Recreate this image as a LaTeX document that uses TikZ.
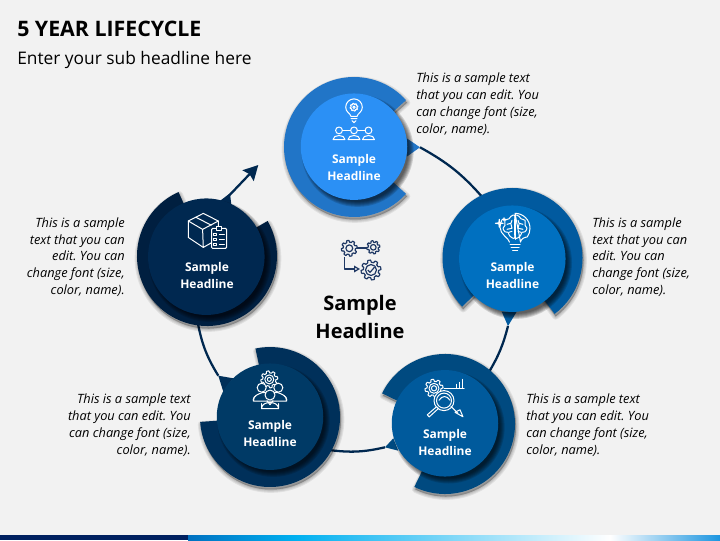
\documentclass[tikz,border=0pt]{standalone}
\usepackage{fontspec}
\setmainfont{Open Sans}
\usetikzlibrary{arrows.meta}
\definecolor{pagegray}{HTML}{F2F2F2}
\definecolor{linknavy}{HTML}{002850}
\definecolor{ringA}{HTML}{2175C7} \definecolor{discA}{HTML}{2B90F5}
\definecolor{ringB}{HTML}{015A9F} \definecolor{discB}{HTML}{0070C0}
\definecolor{ringC}{HTML}{004A80} \definecolor{discC}{HTML}{005A9C}
\definecolor{ringD}{HTML}{00305A} \definecolor{discD}{HTML}{003A66}
\definecolor{ringE}{HTML}{001F40} \definecolor{discE}{HTML}{002850}
\definecolor{gearnavy}{HTML}{1F3864}
\definecolor{stripnavy}{HTML}{002060}
\definecolor{stripsky}{HTML}{00B0F0}
\definecolor{stripend}{HTML}{1B95E0}
\tikzset{
  disc/.style={circle,minimum size=#1*0.75pt,inner sep=0pt},
  headtext/.style={text=white,align=center,inner sep=0pt,font=\bfseries\fontsize{9}{12.8}\selectfont},
  bodytext/.style={inner sep=0pt,font=\itshape\fontsize{9.6}{12.6}\selectfont},
  link/.style={draw=linknavy,line width=1.7pt},
  iconline/.style={white,line width=0.75pt,line join=round,line cap=round}
}
\newcommand{\gearshape}[3]{\draw[shift={(#1,#2)}] plot[domain=0:360,samples=121] (\x:{#3*(1+0.13*min(1,max(-1,3*sin(8*\x))))}) -- cycle;}
\newcommand{\personshape}[5]{\draw[shift={(#1,#2)},fill=#5] (-#4,-#3*2.7) .. controls (-#4,-#3*1.1) and (#4,-#3*1.1) .. (#4,-#3*2.7) -- cycle (0,0) circle (#3);}
% ring: x, y, start angle, end angle, colour
\newcommand{\ringshape}[5]{%
  \foreach \grow in {5,3.5,2,0.8}
    \filldraw[black,opacity=0.07,line width=\grow pt,line join=round,shift={(1,-2.5)}] (#1,#2) -- ++(#3:70) arc[start angle=#3,end angle=#4,radius=70] -- cycle;
  \fill[#5] (#1,#2) -- ++(#3:70) arc[start angle=#3,end angle=#4,radius=70] -- cycle;}
% disc shadow: x, y, radius
\newcommand{\discshadow}[3]{\foreach \grow in {3,2,1,0,-1,-2}
    \fill[black,opacity=0.14,shift={(3.5,-4)}] (#1,#2) circle ({#3+\grow});}
\begin{document}
\frenchspacing
\begin{tikzpicture}[x=0.75pt,y=0.75pt,>=stealth]
\useasboundingbox (0,0) rectangle (720,540);
\fill[pagegray] (0,0) rectangle (720,540);
% bottom strip
\fill[stripnavy] (0,0) rectangle (188,5);
\shade[left color=discB,right color=stripsky] (188,0) rectangle (295,5);
\shade[left color=stripsky,right color=white] (295,0) rectangle (610,5);
\shade[left color=white,right color=stripend] (610,0) rectangle (720,5);
% titles
\node[anchor=west,inner sep=0pt,font=\bfseries\fontsize{16}{18}\selectfont] (title) at (17,511) {5 YEAR LIFECYCLE};
\node[anchor=west,inner sep=0pt,font=\fontsize{13}{15}\selectfont] (subtitle) at (17,480) {Enter your sub headline here};
% connector ends
\coordinate (tipA) at (420,392.7);
\coordinate (tipB) at (508,214);
\coordinate (tipC) at (385,92.7);
\coordinate (tipD) at (218.3,164.3);
\coordinate (tipE) at (222,337);
\coordinate (endB) at (484,341);
\coordinate (endC) at (489,168);
\coordinate (endD) at (329,90);
\coordinate (endE) at (198,216);
\coordinate (endF) at (258.3,375);
\draw[link] (tipA) to[bend left=10] (endB);
\draw[link] (tipB) to[bend left=8] (endC);
\draw[link] (tipC) to[bend left=10] (endD);
\draw[link] (tipD) to[bend left=10] (endE);
\draw[link,-{Stealth[length=11pt,width=11.5pt,inset=1.5pt]}] (tipE) -- (endF);
% rings and tabs
\ringshape{354}{393}{42}{318}{ringA}
\fill[ringA] (406.7,401.7) -- (tipA) -- (406.7,383.3) -- cycle;
\ringshape{512.5}{282}{-53}{224}{ringB}
\fill[ringB] (501.7,228.3) -- (tipB) -- (516.7,228.3) -- cycle;
\ringshape{445}{116}{-116}{154}{ringC}
\fill[ringC] (393.3,101.7) -- (tipC) -- (398.3,89.3) -- cycle;
\ringshape{270}{123}{-176}{102}{ringD}
\fill[ringD] (233.3,161.7) -- (tipD) -- (223.3,148.3) -- cycle;
\ringshape{207}{284}{114}{390}{ringE}
\fill[linknavy] (216.7,336.7) -- (230,346.7) -- (231.7,332) -- cycle;
% discs
\discshadow{354}{393.3}{53.2}
\node[disc=106.5,fill=discA] (stepA) at (354,393.3) {};
\discshadow{512.3}{281.3}{53.2}
\node[disc=106.5,fill=discB] (stepB) at (512.3,281.3) {};
\discshadow{445}{116.7}{53.2}
\node[disc=106.5,fill=discC] (stepC) at (445,116.7) {};
\discshadow{270}{123.3}{53.2}
\node[disc=106.5,fill=discD] (stepD) at (270,123.3) {};
\discshadow{206.3}{283.3}{58.2}
\node[disc=116.5,fill=discE] (stepE) at (206.3,283.3) {};
% disc labels
\node[headtext] (headA) at (354,372.5) {Sample\\Headline};
\node[headtext] (headB) at (512.5,264.5) {Sample\\Headline};
\node[headtext] (headC) at (445,97.5) {Sample\\Headline};
\node[headtext] (headD) at (270,106.5) {Sample\\Headline};
\node[headtext] (headE) at (207,264.5) {Sample\\Headline};
% side texts
\node[bodytext,anchor=west,align=left] (textA) at (416,436) {This is a sample text\\that you can edit. You\\can change font (size,\\color, name).};
\node[bodytext,anchor=west,align=left] (textB) at (592,283) {This is a sample\\text that you can\\edit. You can\\change font (size,\\color, name).};
\node[bodytext,anchor=west,align=left] (textC) at (526,115) {This is a sample text\\that you can edit. You\\can change font (size,\\color, name).};
\node[bodytext,anchor=east,align=right] (textD) at (191,115) {This is a sample text\\that you can edit. You\\can change font (size,\\color, name).};
\node[bodytext,anchor=east,align=right] (textE) at (125,283) {This is a sample\\text that you can\\edit. You can\\change font (size,\\color, name).};
% centre
\node[align=center,inner sep=0pt,font=\bfseries\fontsize{15}{21}\selectfont] (middle) at (360,223.3) {Sample\\Headline};
\begin{scope}[gearnavy,line width=0.9pt,line join=round]
\gearshape{349.3}{291.7}{7}
\draw (349.3,291.7) circle (3.4);
\gearshape{373.3}{292.7}{5.8}
\draw (373.3,292.7) circle (2.8);
\gearshape{371}{270}{8.8}
\draw (371,270) circle (5.5);
\draw (367.8,270) -- (370,267.6) -- (374.5,272.8);
\coordinate (gearL) at (356.7,292);
\coordinate (gearR) at (367,292);
\draw (gearL) -- (gearR);
\coordinate (gearD) at (344.3,283);
\coordinate (gearE) at (360,271);
\draw[-{Triangle[open,length=4.5pt,width=5pt]}] (gearD) |- (gearE);
\end{scope}
% icon of first step
\begin{scope}[iconline,shift={(354,393.3)}]
\draw (-3,30.3) .. controls (-3.4,33) and (-8.6,35) .. (-8.3,39.5) arc[start angle=180,end angle=0,radius=8.3] .. controls (8.6,35) and (3.4,33) .. (3,30.3) -- cycle;
\draw (-3,28) -- (3,28) (-2,26) -- (0,24) -- (2,26);
\gearshape{0}{39.5}{3.4}
\draw (0,39.5) circle (1.2);
\personshape{-15}{16.3}{3.4}{6}{discA}
\personshape{0}{16.3}{3.4}{6}{discA}
\personshape{14.5}{16.3}{3.4}{6}{discA}
\draw (-11.5,16.3) -- (-3.4,16.3) (3.4,16.3) -- (11,16.3);
\end{scope}
% icon of second step
\begin{scope}[iconline,shift={(515,311.7)}]
\draw (-5.5,-13.8) .. controls (-6,-10) and (-15,-6) .. (-15,1) arc[start angle=180,end angle=150,radius=15] (0,15) arc[start angle=90,end angle=-35,radius=15] .. controls (10,-9) and (6,-10) .. (5.5,-13.8) -- cycle;
\draw (0,14) -- (0,-11);
\draw plot[smooth cycle] coordinates {(0,12) (-4,12) (-6,9.5) (-10,8) (-10,3) (-12,0) (-10,-3.5) (-7,-4) (-5,-8) (0,-9)};
\draw plot[smooth cycle] coordinates {(0,12) (4,12) (6,9.5) (10,8) (10,3) (12,0) (10,-3.5) (7,-4) (5,-8) (0,-9)};
\draw (-8,4) -- (-4,5) -- (-3,8) (-8,-1) -- (-3,0) -- (-4,4) (-6,-4) -- (-3,-3) (8,4) -- (4,5) -- (3,8) (8,-1) -- (3,0) -- (4,4) (6,-4) -- (3,-3);
\draw (-5,-16.5) -- (5,-16.5) (-4,-19) -- (4,-19) (-2.5,-21.7) -- (2.5,-21.7);
\draw (-15.7,9) -- (-15.2,5.5) -- (-11.8,5) -- (-15.2,4.5) -- (-15.7,1) -- (-16.2,4.5) -- (-19.6,5) -- (-16.2,5.5) -- cycle;
\draw (-11,10.5) -- (-10.6,9.2) -- (-9.3,9) -- (-10.6,8.8) -- (-11,7.5) -- (-11.4,8.8) -- (-12.7,9) -- (-11.4,9.2) -- cycle;
\end{scope}
% icon of third step
\begin{scope}[iconline,shift={(445,116.7)}]
\gearshape{-11}{35}{8}
\draw (-11,35) circle (5) (-11,35) circle (2.6);
\draw[fill=discC] (-1,22.7) circle (10);
\draw (-1,22.7) circle (7.5);
\draw[fill=discC] (-8.4,16.6) -- (-17.7,8.5) -- (-15.8,6.4) -- (-6.6,14.8) -- cycle;
\draw (6,35) -- (19,35) (11,35) -- (11,39) (14,35) -- (14,41) (17,35) -- (17,44);
\draw (-1,35) -- (6,35);
\draw (6,17) -- (13,10);
\draw (10,11) -- (18,6.5) -- (15,13.5) -- cycle;
\draw (-6,23) .. controls (-3,28) and (2,28) .. (5,23);
\end{scope}
% icon of fourth step
\begin{scope}[iconline,shift={(270,123.3)}]
\gearshape{-0.7}{37.3}{7.5}
\draw (-0.7,37.3) circle (4.5) (-0.7,37.3) circle (2);
\personshape{-8.3}{29}{4.5}{8.5}{discD}
\personshape{8.3}{29}{4.5}{8.5}{discD}
\draw[fill=discD] (-16.7,15.7) .. controls (-16.7,22) and (-10,23) .. (-8,24) -- (8,24) .. controls (10,23) and (16.7,22) .. (16.7,15.7) -- cycle;
\personshape{0}{21.7}{5}{8.5}{discD}
\draw (-8.5,8) -- (-8.5,13) (8.5,8) -- (8.5,13) (-3,16) -- (0,12) -- (3,16);
\end{scope}
% icon of fifth step
\begin{scope}[iconline,shift={(206.3,283.3)}]
\draw (-3,43.3) -- (12,35.7) -- (-3.7,27.3) -- (-18,35.7) -- cycle;
\draw (-18,35.7) -- (-18,19.3) -- (-3,9.3) -- (5.3,14);
\draw (-3.7,27.3) -- (-3,9.3) (12,35.7) -- (12,29);
\draw (-10.5,39.5) -- (5,31.5);
\draw[fill=discE,rounded corners=0.8pt] (5.3,28.3) rectangle (20.3,8.3);
\draw[fill=discE] (10,29.8) rectangle (15.5,26.6);
\foreach \rowy in {22.5,17.5,12.5} {
  \draw (7.6,\rowy-1.2) rectangle (10.4,\rowy+1.2);
  \draw (13,\rowy) -- (18,\rowy);
}
\end{scope}
\end{tikzpicture}
\end{document}
